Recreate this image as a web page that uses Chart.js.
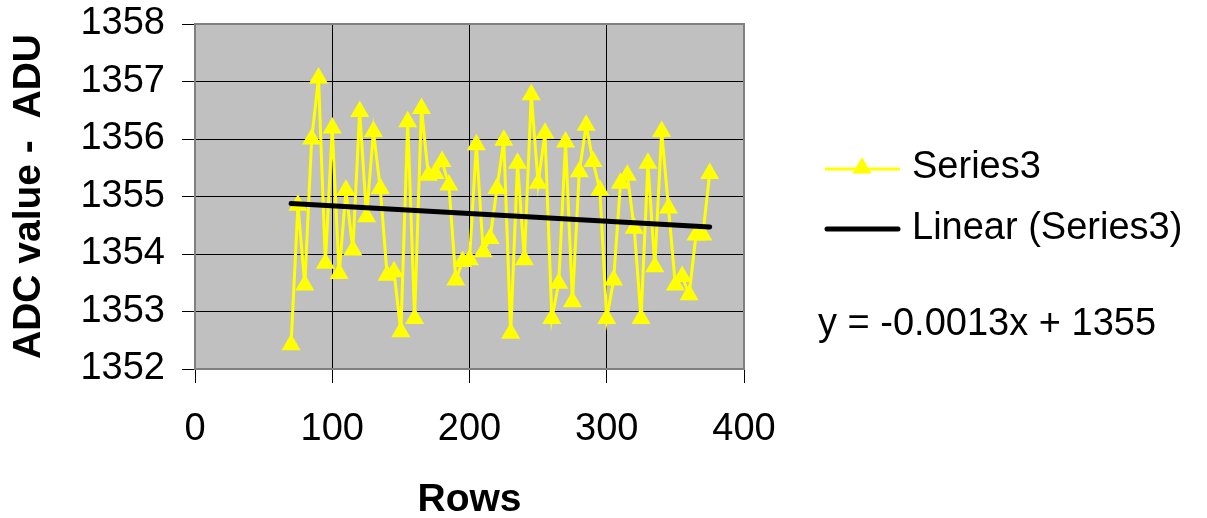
<!DOCTYPE html>
<html>
<head>
<meta charset="utf-8">
<script src="https://cdn.jsdelivr.net/npm/chart.js@4.4.1/dist/chart.umd.min.js"></script>
<style>
  html, body { margin: 0; padding: 0; background: #ffffff; }
  #wrap { width: 1207px; height: 518px; position: relative; }
</style>
</head>
<body>
<div id="wrap"><canvas id="c" width="1207" height="518"></canvas></div>
<script>
// ---- data ----
const rows = [70, 75, 80, 85, 90, 95, 100, 105, 110, 115, 120, 125, 130, 135, 140, 145,
  150, 155, 160, 165, 170, 175, 180, 185, 190, 195, 200, 205, 210, 215, 220, 225,
  230, 235, 240, 245, 250, 255, 260, 265, 270, 275, 280, 285, 290, 295, 300, 305,
  310, 315, 320, 325, 330, 335, 340, 345, 350, 355, 360, 365, 370, 375];
const series3 = [1352.42, 1354.85, 1353.46, 1356.00, 1357.06, 1353.84, 1356.19, 1353.66,
  1355.11, 1354.07, 1356.48, 1354.65, 1356.13, 1355.14, 1353.63, 1353.69,
  1352.65, 1356.30, 1352.88, 1356.53, 1355.37, 1355.40, 1355.61, 1355.20,
  1353.55, 1353.87, 1353.90, 1355.90, 1354.04, 1354.27, 1355.14, 1355.98,
  1352.62, 1355.58, 1353.90, 1356.77, 1355.23, 1356.10, 1352.88, 1353.49,
  1355.95, 1353.17, 1355.43, 1356.24, 1355.61, 1355.11, 1352.88, 1353.55,
  1355.23, 1355.37, 1354.45, 1352.88, 1355.58, 1353.78, 1356.13, 1354.80,
  1353.46, 1353.61, 1353.29, 1354.33, 1354.33, 1355.40];
const trendRows = [70, 375];
const trendValues = [1354.88, 1354.47];
const xTicks = [0, 100, 200, 300, 400];
const yTicks = [1352, 1353, 1354, 1355, 1356, 1357, 1358];
const seriesLabel = 'Series3';
const trendLabel = 'Linear (Series3)';
const equationText = 'y = -0.0013x + 1355';
const xTitle = 'Rows';
const yTitle = 'ADC value -  ADU';

const FONT = '"Liberation Sans", Arial, sans-serif';

const plotDecor = {
  id: 'plotDecor',
  beforeDraw(chart) {
    const { ctx, chartArea: a } = chart;
    ctx.save();
    ctx.fillStyle = '#c0c0c0';
    ctx.fillRect(a.left, a.top, a.right - a.left, a.bottom - a.top);
    ctx.restore();
  },
  beforeDatasetsDraw(chart) {
    const { ctx, chartArea: a } = chart;
    ctx.save();
    ctx.strokeStyle = '#808080';
    ctx.lineWidth = 2;
    ctx.strokeRect(a.left, a.top, a.right - a.left, a.bottom - a.top);
    ctx.restore();
  },
  afterDraw(chart) {
    const ctx = chart.ctx;
    const ds0 = chart.data.datasets[0];
    const ds1 = chart.data.datasets[1];
    ctx.save();
    // legend item 1
    ctx.strokeStyle = ds0.borderColor;
    ctx.lineWidth = 3;
    ctx.beginPath(); ctx.moveTo(825, 169); ctx.lineTo(900, 169); ctx.stroke();
    ctx.fillStyle = ds0.pointBackgroundColor;
    ctx.beginPath();
    const r = 11, cx = 862, cy = 168;
    ctx.moveTo(cx, cy - r);
    ctx.lineTo(cx + r * Math.sin(2 * Math.PI / 3), cy - r * Math.cos(2 * Math.PI / 3));
    ctx.lineTo(cx + r * Math.sin(4 * Math.PI / 3), cy - r * Math.cos(4 * Math.PI / 3));
    ctx.closePath();
    ctx.fill();
    // legend item 2
    ctx.strokeStyle = ds1.borderColor;
    ctx.lineWidth = 5;
    ctx.lineCap = 'round';
    ctx.beginPath(); ctx.moveTo(827, 229); ctx.lineTo(898, 229); ctx.stroke();
    // texts
    ctx.fillStyle = '#000';
    ctx.font = '38px ' + FONT;
    ctx.textBaseline = 'middle';
    ctx.textAlign = 'left';
    ctx.fillText(ds0.label, 912, 168);
    ctx.fillText(ds1.label, 912, 229);
    ctx.fillText(equationText, 818, 325);
    ctx.restore();
  }
};

new Chart(document.getElementById('c'), {
  type: 'scatter',
  data: {
    datasets: [
      {
        label: seriesLabel,
        data: rows.map((x, i) => ({ x: x, y: series3[i] })),
        showLine: true,
        borderColor: '#ffff00',
        borderWidth: 3,
        backgroundColor: '#ffff00',
        pointBackgroundColor: '#ffff00',
        pointBorderColor: '#ffff00',
        pointBorderWidth: 0,
        pointStyle: 'triangle',
        pointRadius: 11,
        order: 1
      },
      {
        label: trendLabel,
        data: trendRows.map((x, i) => ({ x: x, y: trendValues[i] })),
        showLine: true,
        borderColor: '#000000',
        borderWidth: 5,
        borderCapStyle: 'round',
        pointRadius: 0,
        order: 0
      }
    ]
  },
  options: {
    responsive: false,
    animation: false,
    events: [],
    layout: { padding: { top: 24, right: 463, left: 0, bottom: 0 } },
    plugins: { legend: { display: false }, tooltip: { enabled: false } },
    scales: {
      x: {
        type: 'linear',
        min: 0, max: 400,
        afterBuildTicks: s => { s.ticks = xTicks.map(v => ({ value: v })); },
        afterFit: s => { s.height = 149; s.paddingLeft = 0; s.paddingRight = 0; },
        grid: { color: '#000000', lineWidth: 1, tickLength: 14, drawTicks: true },
        border: { display: false },
        ticks: { color: '#000', font: { family: FONT, size: 38 }, padding: 24, maxRotation: 0, callback: v => String(v) },
        title: { display: true, text: xTitle, color: '#000', font: { family: FONT, size: 39, weight: 'bold', lineHeight: 0.9 }, padding: 0 }
      },
      y: {
        type: 'linear',
        min: 1352, max: 1358,
        afterBuildTicks: s => { s.ticks = yTicks.map(v => ({ value: v })); },
        afterFit: s => { s.width = 195; s.paddingTop = 0; s.paddingBottom = 0; },
        grid: { color: '#000000', lineWidth: 1, tickLength: 13, drawTicks: true },
        border: { display: false },
        ticks: { color: '#000', font: { family: FONT, size: 38 }, padding: 17, callback: v => String(v) },
        title: { display: true, text: yTitle, color: '#000', font: { family: FONT, size: 39, weight: 'bold', lineHeight: 1.2 }, padding: { top: 6, bottom: 0 } }
      }
    }
  },
  plugins: [plotDecor]
});
</script>
</body>
</html>
